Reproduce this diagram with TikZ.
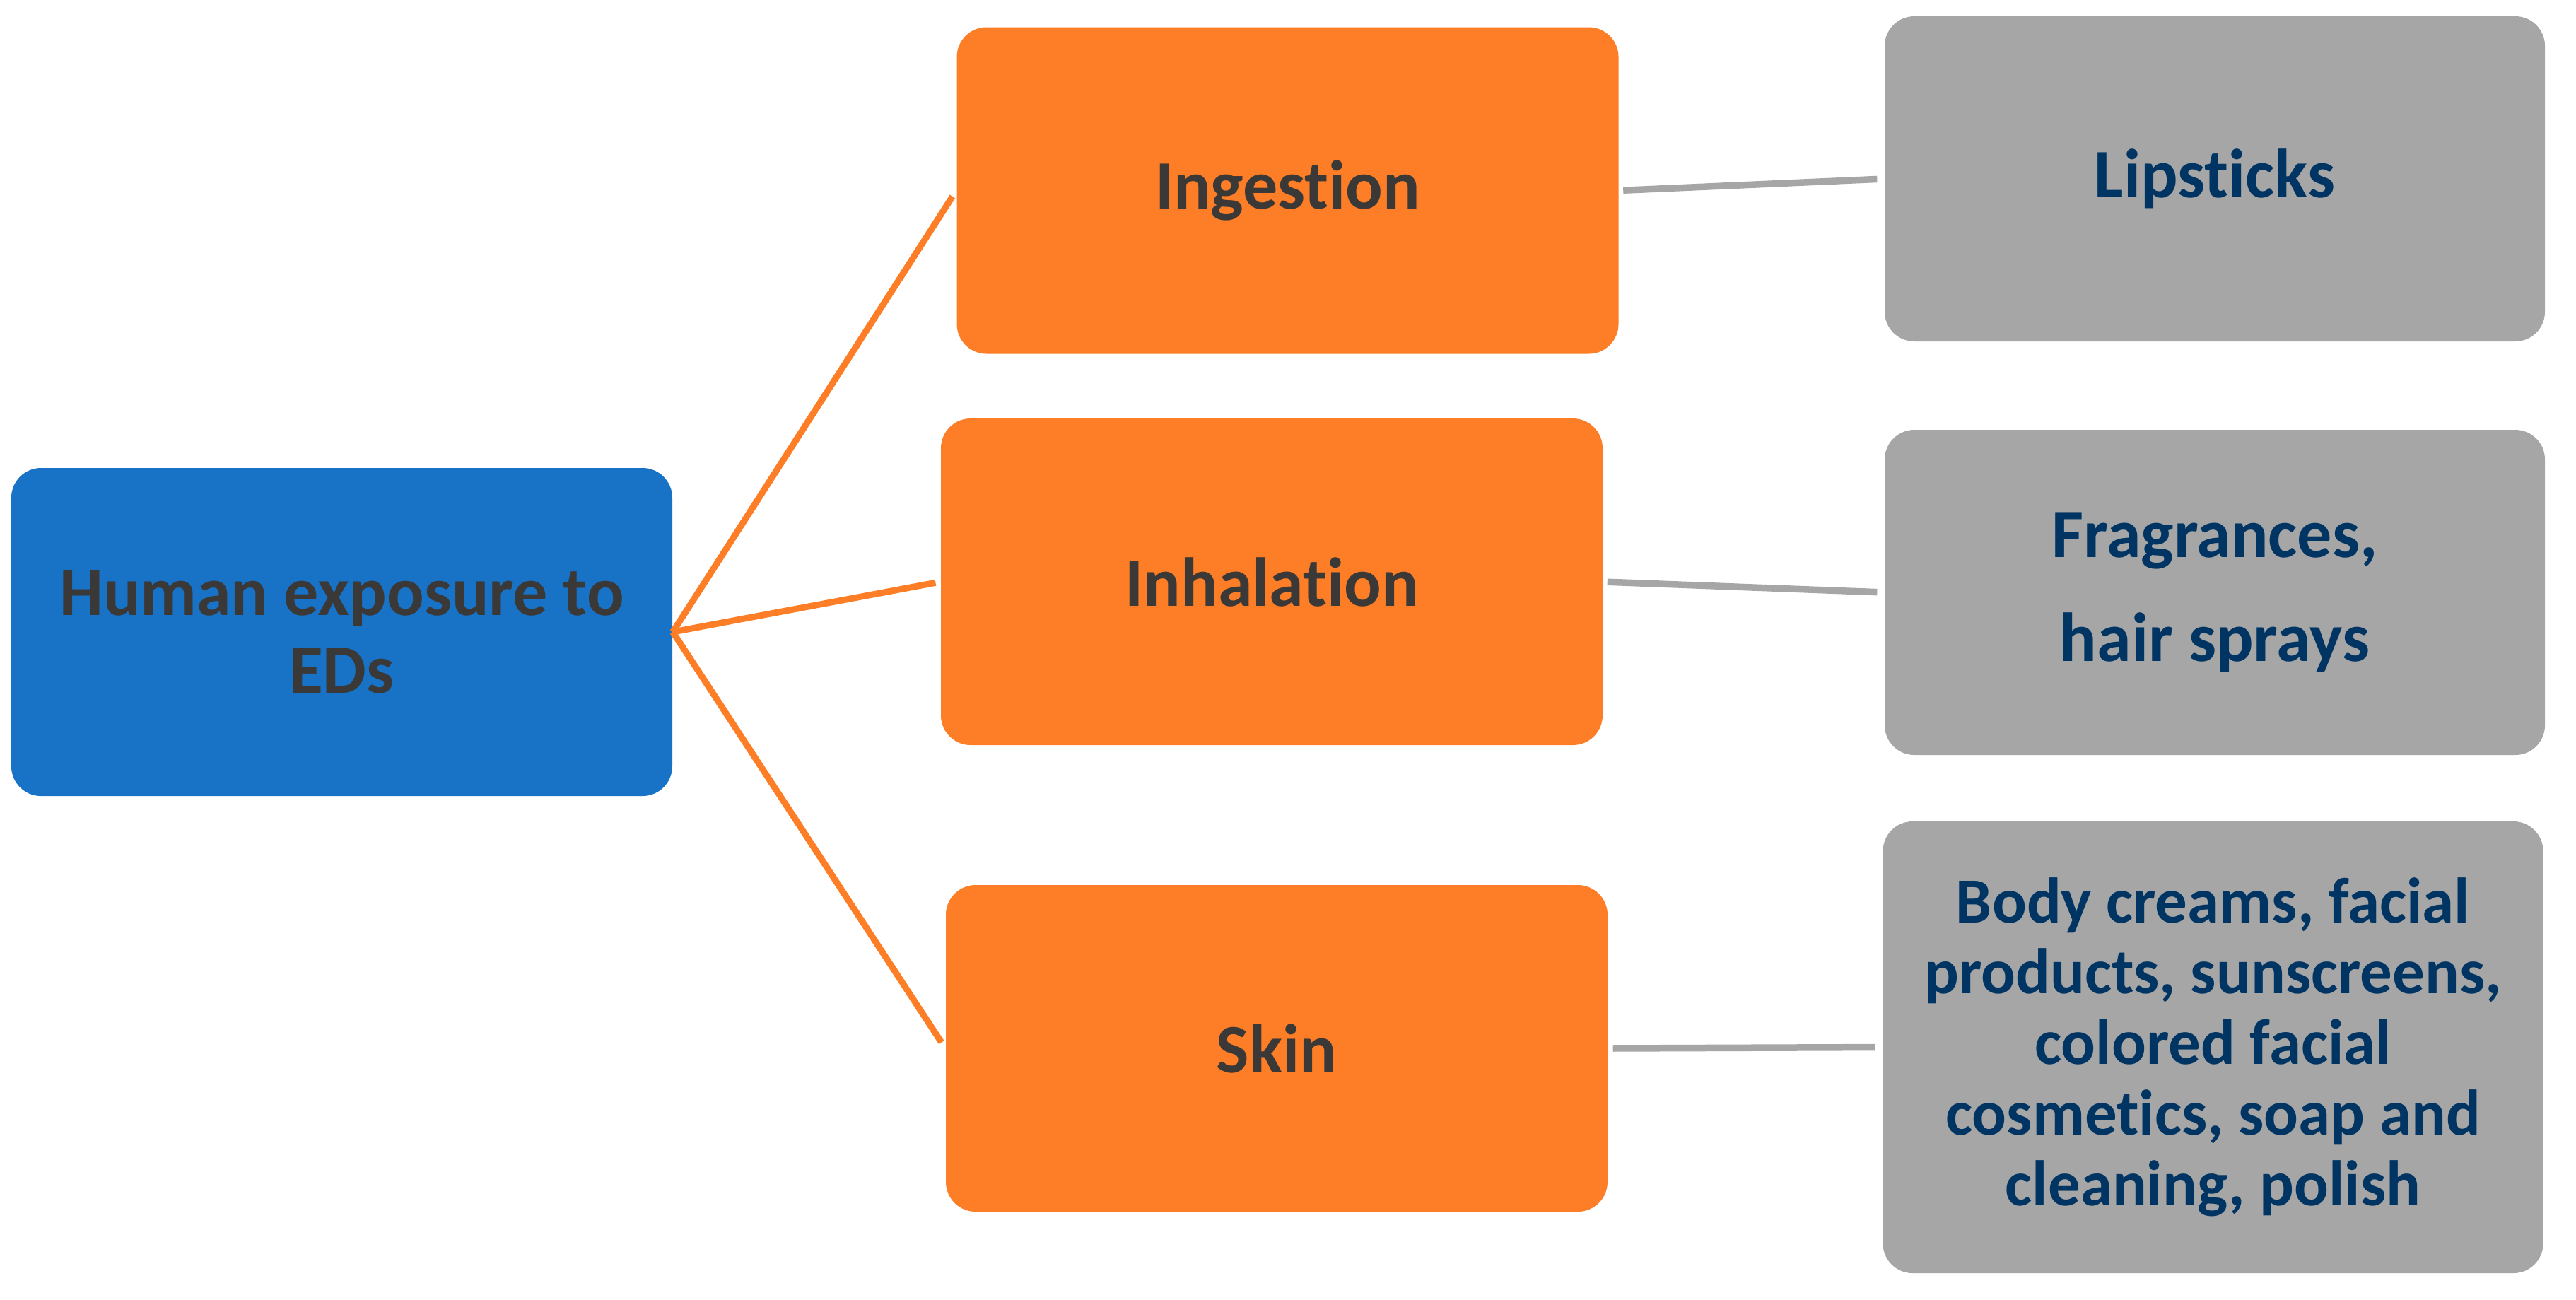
\documentclass[tikz,border=0pt]{standalone}
\usepackage{fontspec}
\setmainfont{Carlito}[Ligatures=NoCommon]
\definecolor{hubblue}{RGB}{24,114,198}
\definecolor{routeorange}{RGB}{253,126,38}
\definecolor{srcgray}{RGB}{166,166,166}
\definecolor{darktext}{RGB}{59,56,56}
\definecolor{navytext}{RGB}{0,52,98}
\tikzset{
  box/.style={rectangle, rounded corners=0.42cm, inner sep=0pt, align=center,
    font=\bfseries\fontsize{27.9pt}{31.3pt}\selectfont},
  hubbox/.style={box, fill=hubblue, text=darktext, minimum width=9.35cm, minimum height=4.64cm},
  routebox/.style={box, fill=routeorange, text=darktext, minimum width=9.36cm, minimum height=4.62cm},
  srcbox/.style={box, fill=srcgray, text=navytext, minimum width=9.34cm, minimum height=4.6cm},
  orangeline/.style={draw=routeorange, line width=0.09cm},
  grayline/.style={draw=srcgray, line width=0.095cm},
}
\begin{document}
\begin{tikzpicture}
\useasboundingbox (0,0) rectangle (36.44,-18.38);
\node[hubbox] (hub) at (4.835,-8.94) {Human exposure to\\EDs};
\node[routebox] (ing) at (18.215,-2.695) {Ingestion};
\node[routebox] (inh) at (17.99,-8.23) {Inhalation};
\node[routebox] (skin) at (18.06,-14.83) {Skin};
\node[srcbox] (lip) at (31.33,-2.53) {Lipsticks};
\node[srcbox, font=\bfseries\fontsize{27.9pt}{41.8pt}\selectfont] (fra) at (31.33,-8.38) {Fragrances,\\hair sprays};
\node[srcbox, minimum height=6.39cm, font=\bfseries\fontsize{25.9pt}{28.45pt}\selectfont] (body) at (31.305,-14.815)
  {Body creams, facial\\products, sunscreens,\\colored facial\\cosmetics, soap and\\cleaning, polish};
\draw[orangeline, shorten >=0.1cm] (hub.east) -- (ing.west);
\draw[orangeline, shorten >=0.07cm] (hub.east) -- (inh.west);
\draw[orangeline, shorten >=0.1cm] (hub.east) -- (skin.west);
\draw[grayline, shorten <=0.06cm, shorten >=0.1cm] (ing.east) -- (lip.west);
\draw[grayline, shorten <=0.06cm, shorten >=0.1cm] (inh.east) -- (fra.west);
\draw[grayline, shorten <=0.07cm, shorten >=0.1cm] (skin.east) -- (body.west);
\end{tikzpicture}
\end{document}
